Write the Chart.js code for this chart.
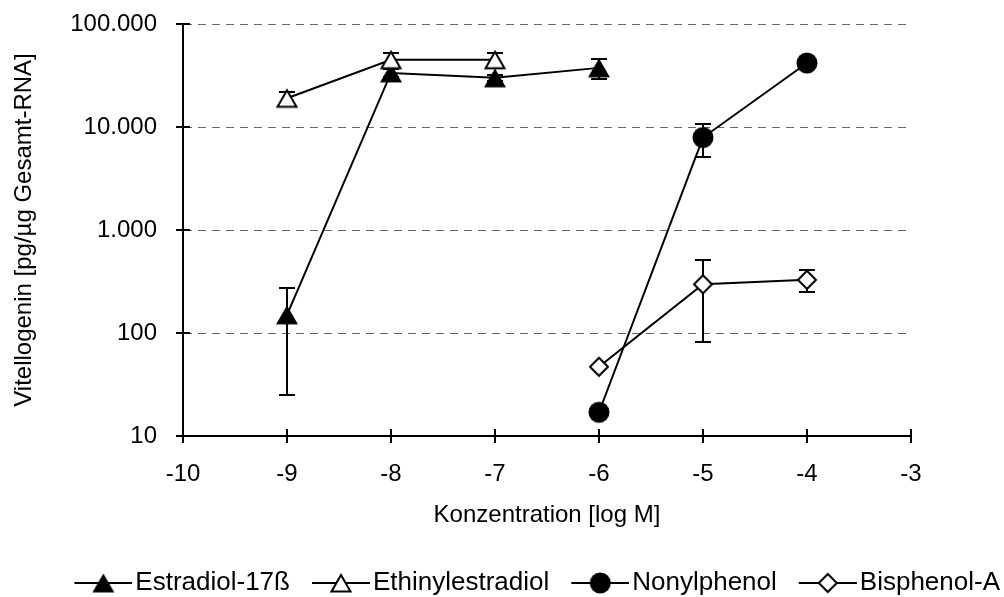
<!DOCTYPE html>
<html>
<head>
<meta charset="utf-8">
<script src="https://cdn.jsdelivr.net/npm/chart.js@4.4.1/dist/chart.umd.min.js"></script>
<style>
  html, body { margin: 0; padding: 0; background: #fff; overflow: hidden; }
  canvas { display: block; }
</style>
</head>
<body>
<canvas id="chart" width="1004" height="597"></canvas>
<script>
// Concentration (log M) and vitellogenin level (pg/µg total RNA) per substance
const estradiolX = [-9, -8, -7, -6];
const estradiolY = [150, 33500, 30000, 37500];
const estradiolErr = [125, 3000, 2000, 8000];

const ethinylX = [-9, -8, -7];
const ethinylY = [19000, 45000, 45000];
const ethinylErr = [3000, 7500, 7500];

const nonylX = [-6, -5, -4];
const nonylY = [17, 7900, 41800];
const nonylErr = [0, 2800, 0];

const bisphenolX = [-6, -5, -4];
const bisphenolY = [47, 297, 328];
const bisphenolErr = [0, 215, 80];

const seriesNames = ['Estradiol-17ß', 'Ethinylestradiol', 'Nonylphenol', 'Bisphenol-A'];

const xTickValues = [-10, -9, -8, -7, -6, -5, -4, -3];
const xTickLabels = ['-10', '-9', '-8', '-7', '-6', '-5', '-4', '-3'];
const yTickValues = [10, 100, 1000, 10000, 100000];
const yTickLabels = ['10', '100', '1.000', '10.000', '100.000'];

const xTitle = 'Konzentration [log M]';
const yTitle = 'Vitellogenin [pg/µg Gesamt-RNA]';

// ---- marker glyphs (drawn once, used for points and legend) ----
function makeMarker(kind) {
  const c = document.createElement('canvas');
  c.width = 24; c.height = kind.indexOf('triangle') >= 0 ? 22 : 24;
  const g = c.getContext('2d');
  g.lineWidth = 2; g.strokeStyle = '#000'; g.lineJoin = 'miter';
  g.beginPath();
  if (kind === 'triangleFilled') {
    g.moveTo(1, 20.5); g.lineTo(23, 20.5); g.lineTo(12, 1.5); g.closePath();
    g.fillStyle = '#000'; g.fill();
  } else if (kind === 'triangleOpen') {
    g.moveTo(2.5, 19.5); g.lineTo(21.5, 19.5); g.lineTo(12, 3); g.closePath();
    g.fillStyle = '#fff'; g.fill(); g.stroke();
  } else if (kind === 'circle') {
    g.arc(12, 12, 10.5, 0, Math.PI * 2);
    g.fillStyle = '#000'; g.fill();
  } else if (kind === 'diamond') {
    g.moveTo(12, 3); g.lineTo(21, 12); g.lineTo(12, 21); g.lineTo(3, 12); g.closePath();
    g.fillStyle = '#fff'; g.fill(); g.stroke();
  }
  return c;
}
const markerKinds = ['triangleFilled', 'triangleOpen', 'circle', 'diamond'];
const markers = markerKinds.map(makeMarker);

// legend icon: short line with the marker in its middle, blank lead-in on the left
const legendFontSize = 26;
const legendLead = 28;
const legendLine = 58;
const legendIconW = legendLead + legendLine;
const legendBoxW = legendIconW + 6 - legendFontSize;
function makeLegendIcon(marker) {
  const c = document.createElement('canvas');
  c.width = legendIconW; c.height = 26;
  const g = c.getContext('2d');
  g.strokeStyle = '#000'; g.lineWidth = 2;
  g.beginPath(); g.moveTo(legendLead, 13); g.lineTo(legendIconW, 13); g.stroke();
  const cx = legendLead + legendLine / 2;
  g.drawImage(marker, Math.round(cx - marker.width / 2), Math.round(13 - marker.height / 2));
  return c;
}
const legendIcons = markers.map(makeLegendIcon);

const seriesX = [estradiolX, ethinylX, nonylX, bisphenolX];
const seriesY = [estradiolY, ethinylY, nonylY, bisphenolY];
const seriesErr = [estradiolErr, ethinylErr, nonylErr, bisphenolErr];

const datasets = seriesNames.map((name, i) => ({
  label: name,
  data: seriesX[i].map((x, j) => ({ x: x, y: seriesY[i][j] })),
  borderColor: '#000',
  borderWidth: 2,
  backgroundColor: '#000',
  pointStyle: markers[i],
  pointRadius: 10,
  pointHoverRadius: 10,
  tension: 0,
  order: i === 0 ? 1 : 0,
  xAxisID: 'x',
  yAxisID: 'y'
}));

// vertical error bars with caps, under the lines and markers
const errorBars = {
  id: 'errorBars',
  beforeDatasetsDraw(chart) {
    const { ctx, scales: { x, y } } = chart;
    ctx.save();
    ctx.strokeStyle = '#000';
    ctx.lineWidth = 2;
    ctx.beginPath();
    seriesX.forEach((xs, i) => {
      xs.forEach((xv, j) => {
        const e = seriesErr[i][j];
        if (!e) return;
        const v = seriesY[i][j];
        const px = Math.round(x.getPixelForValue(xv));
        const top = Math.round(y.getPixelForValue(v + e));
        const low = Math.max(v - e, y.min);
        const bot = Math.round(y.getPixelForValue(low));
        ctx.moveTo(px, top); ctx.lineTo(px, bot);
        ctx.moveTo(px - 8, top); ctx.lineTo(px + 8, top);
        ctx.moveTo(px - 8, bot); ctx.lineTo(px + 8, bot);
      });
    });
    ctx.stroke();
    ctx.restore();
  }
};

// tick marks that cross both axis lines
const crossTicks = {
  id: 'crossTicks',
  beforeDatasetsDraw(chart) {
    const { ctx, scales: { x, y }, chartArea: a } = chart;
    ctx.save();
    ctx.strokeStyle = '#000';
    ctx.lineWidth = 2;
    ctx.beginPath();
    yTickValues.forEach(v => {
      const py = Math.round(y.getPixelForValue(v));
      ctx.moveTo(a.left - 7, py); ctx.lineTo(a.left + 7, py);
    });
    xTickValues.forEach(v => {
      const px = Math.round(x.getPixelForValue(v));
      ctx.moveTo(px, a.bottom - 7); ctx.lineTo(px, a.bottom + 7);
    });
    ctx.stroke();
    ctx.restore();
  }
};

Chart.defaults.font.family = "'Liberation Sans', Arial, sans-serif";
Chart.defaults.font.size = 24;
Chart.defaults.color = '#000';

new Chart(document.getElementById('chart'), {
  type: 'line',
  data: { datasets: datasets },
  options: {
    responsive: false,
    animation: false,
    devicePixelRatio: 1,
    events: [],
    layout: { padding: { top: 24, left: 0, right: 0, bottom: -9 } },
    scales: {
      x: {
        type: 'linear',
        position: 'bottom',
        min: -10,
        max: -3,
        afterBuildTicks: s => { s.ticks = xTickValues.map(v => ({ value: v })); },
        afterFit: s => { s.height = 130; },
        ticks: {
          autoSkip: false,
          maxRotation: 0,
          padding: 24,
          font: { size: 24 },
          callback: v => xTickLabels[xTickValues.indexOf(v)]
        },
        grid: { display: false, drawTicks: false },
        border: { display: true, color: '#000', width: 2 },
        title: { display: true, text: xTitle, font: { size: 24 }, padding: { top: 0, bottom: 36 } }
      },
      y: {
        type: 'logarithmic',
        position: 'left',
        min: 10,
        max: 100000,
        afterBuildTicks: s => { s.ticks = yTickValues.map(v => ({ value: v, major: true })); },
        afterFit: s => { s.width = 183; },
        ticks: {
          autoSkip: false,
          padding: 0,
          font: { size: 24 },
          callback: v => { const k = yTickValues.indexOf(v); return k >= 0 ? yTickLabels[k] : ''; }
        },
        grid: {
          display: true,
          drawTicks: true,
          tickLength: 26,
          tickColor: 'rgba(0,0,0,0)',
          lineWidth: 1,
          color: c => (c.tick && c.tick.value === 10) ? 'rgba(0,0,0,0)' : '#666'
        },
        border: { display: true, color: '#000', width: 2, dash: [8, 6] },
        title: { display: true, text: yTitle, font: { size: 24 }, padding: { top: 10, bottom: 0 } }
      },
      rightGap: {
        type: 'linear',
        position: 'right',
        display: true,
        afterFit: s => { s.width = 93; },
        ticks: { display: false },
        grid: { display: false, drawTicks: false },
        border: { display: false }
      }
    },
    plugins: {
      tooltip: { enabled: false },
      legend: {
        position: 'bottom',
        align: 'end',
        labels: {
          usePointStyle: true,
          pointStyleWidth: legendBoxW,
          padding: 4,
          color: '#000',
          font: { size: legendFontSize },
          generateLabels: chart => chart.data.datasets.map((ds, i) => ({
            text: ds.label,
            pointStyle: legendIcons[i],
            datasetIndex: i,
            hidden: false,
            fillStyle: '#000',
            strokeStyle: '#000',
            lineWidth: 0,
            fontColor: '#000'
          }))
        }
      }
    }
  },
  plugins: [errorBars, crossTicks]
});
</script>
</body>
</html>
